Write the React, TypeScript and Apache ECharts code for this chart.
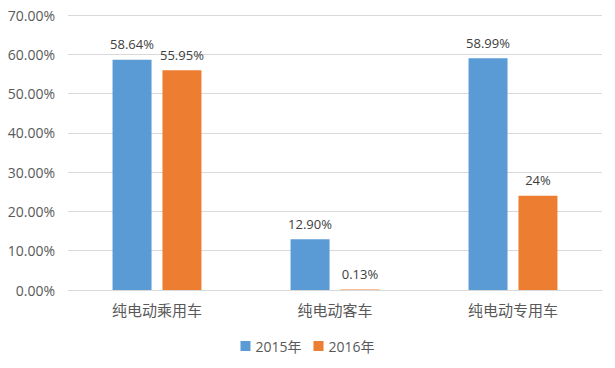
import React, { useEffect, useRef } from "react";
import * as echarts from "echarts";

const categories = ["纯电动乘用车", "纯电动客车", "纯电动专用车"];
const values2015 = [58.64, 12.9, 58.99];
const values2016 = [55.95, 0.13, 24];
const labels2015 = ["58.64%", "12.90%", "58.99%"];
const labels2016 = ["55.95%", "0.13%", "24%"];
const seriesNames = ["2015年", "2016年"];

const FONT = "'Noto Sans CJK SC', 'Microsoft YaHei', sans-serif";
const NUMFONT = "'Open Sans', 'Noto Sans CJK SC', sans-serif";

export default function App() {
  const ref = useRef<HTMLDivElement>(null);
  useEffect(() => {
    if (!ref.current) return;
    const chart = echarts.init(ref.current, null, { renderer: "svg" });
    const mkLabel = (labels: string[]) => ({
      show: true,
      position: "top",
      distance: 9,
      color: "#404040",
      fontSize: 13,
      fontFamily: NUMFONT,
      formatter: (p: any) => labels[p.dataIndex],
    });
    chart.setOption({
      animation: false,
      backgroundColor: "#ffffff",
      grid: { left: 68, right: 13, top: 15, bottom: 78, containLabel: false },
      legend: {
        bottom: 10,
        left: "center",
        icon: "rect",
        itemWidth: 10,
        itemHeight: 10,
        itemGap: 12,
        textStyle: { color: "#595959", fontSize: 14, fontFamily: NUMFONT },
        data: seriesNames,
      },
      xAxis: {
        type: "category",
        data: categories,
        axisLine: { show: true, lineStyle: { color: "#d9d9d9" } },
        axisTick: { show: false },
        axisLabel: { color: "#595959", fontSize: 15, fontFamily: FONT, margin: 12 },
      },
      yAxis: {
        type: "value",
        min: 0,
        max: 70,
        interval: 10,
        axisLine: { show: false },
        axisTick: { show: false },
        splitLine: { lineStyle: { color: "#d9d9d9" } },
        axisLabel: {
          color: "#595959",
          fontSize: 14,
          fontFamily: NUMFONT,
          margin: 13,
          formatter: (v: number) => v.toFixed(2) + "%",
        },
      },
      series: [
        {
          name: seriesNames[0],
          type: "bar",
          data: values2015,
          barWidth: 39,
          barGap: "28%",
          itemStyle: { color: "#5B9BD5" },
          label: mkLabel(labels2015),
        },
        {
          name: seriesNames[1],
          type: "bar",
          data: values2016,
          barWidth: 39,
          barGap: "28%",
          itemStyle: { color: "#ED7D31" },
          label: mkLabel(labels2016),
        },
      ],
    });
    return () => chart.dispose();
  }, []);
  return <div ref={ref} style={{ width: 615, height: 368, position: "absolute", left: 0, top: 0 }} />;
}
